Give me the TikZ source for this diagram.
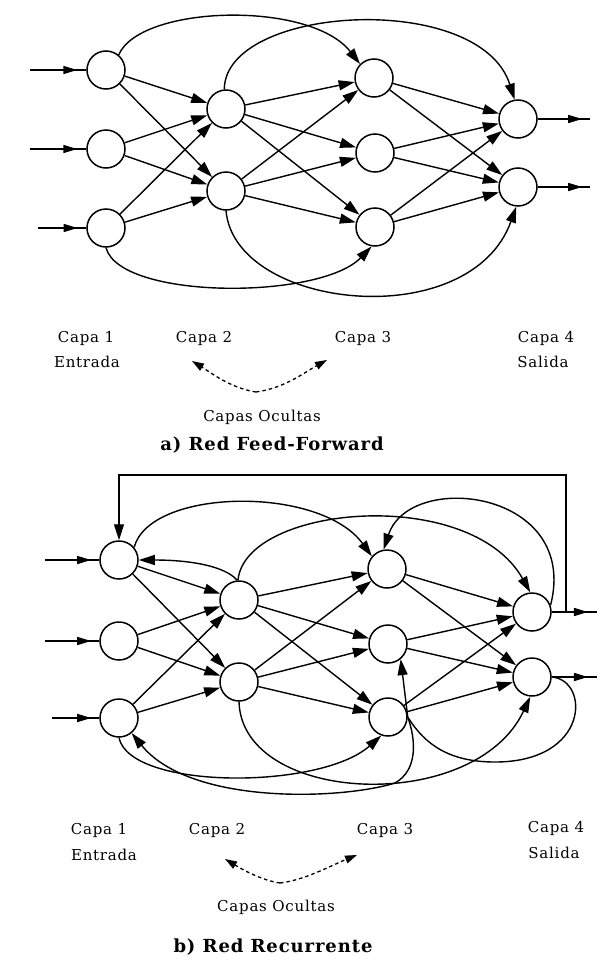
\documentclass[tikz,border=0pt]{standalone}
\usepackage{fontspec}
\setmainfont{DejaVu Serif}[LetterSpace=5]
\usetikzlibrary{arrows.meta,decorations.markings}

\tikzset{
  neuron/.style={circle,draw,line width=1.5pt,minimum size=38pt,inner sep=0pt},
  link/.style={line width=1.4pt,-{Triangle[length=16pt,width=10pt]}},
  io/.style={line width=1.6pt,postaction={decorate},
    decoration={markings,mark=at position #1 with {\arrow{Triangle[length=14pt,width=8pt]}}}},
  lbl/.style={font=\fontsize{15}{17}\selectfont,inner sep=0pt},
  heading/.style={font=\fontsize{18}{20}\selectfont\bfseries,inner sep=0pt},
  hint/.style={line width=1.3pt,dash pattern=on 3.5pt off 3pt,-{Triangle[length=12pt,width=8pt]}}
}

\begin{document}
\begin{tikzpicture}[x=1pt,y=-1pt]
\useasboundingbox[fill=white] (0,0) rectangle (598,964);

% ---------------- a) feed-forward network ----------------
\node[neuron] (a1) at (106,70) {};
\node[neuron] (a2) at (106,149) {};
\node[neuron] (a3) at (106,228) {};
\node[neuron] (b1) at (226,109) {};
\node[neuron] (b2) at (226,191) {};
\node[neuron] (c1) at (374,78) {};
\node[neuron] (c2) at (375,153) {};
\node[neuron] (c3) at (375,227) {};
\node[neuron] (d1) at (518,119) {};
\node[neuron] (d2) at (518,187) {};

\coordinate (ain1) at (30,70);
\coordinate (ain2) at (30,149);
\coordinate (ain3) at (38,228);
\coordinate (aout1) at (590,119);
\coordinate (aout2) at (590,187);
\draw[io=0.84] (ain1) -- (a1);
\draw[io=0.84] (ain2) -- (a2);
\draw[io=0.82] (ain3) -- (a3);
\draw[io=0.85] (d1) -- (aout1);
\draw[io=0.85] (d2) -- (aout2);

\foreach \s in {a1,a2,a3} \foreach \t in {b1,b2} \draw[link] (\s) -- (\t);
\foreach \s in {b1,b2} \foreach \t in {c1,c2,c3} \draw[link] (\s) -- (\t);
\foreach \s in {c1,c2,c3} \foreach \t in {d1,d2} \draw[link] (\s) -- (\t);

% skip connections
\draw[link] (a1.50) .. controls (140,5) and (310,0) .. (c1.135);
\draw[link] (b1.95) .. controls (225,5) and (480,-10) .. (d1.100);
\draw[link] (a3.south) .. controls (120,300) and (320,300) .. (c3.-100);
\draw[link] (b2.south) .. controls (235,310) and (470,335) .. (d2.-95);

% labels
\node[lbl] (la1) at (86,338) {Capa 1};
\node[lbl] (la1b) at (87,362) {Entrada};
\node[lbl] (la2) at (204,338) {Capa 2};
\node[lbl] (la3) at (363,338) {Capa 3};
\node[lbl] (la4) at (546,338) {Capa 4};
\node[lbl] (la4b) at (543,362) {Salida};
\node[lbl] (laoc) at (262,417) {Capas Ocultas};
\node[heading] (lat) at (272,445) {a) Red Feed-Forward};
\coordinate (av) at (256,392);
\coordinate (avl) at (192,361);
\coordinate (avr) at (327,360);
\draw[hint] (av) .. controls (230,388) and (210,372) .. (avl);
\draw[hint] (av) .. controls (285,388) and (305,372) .. (avr);

% ---------------- b) recurrent network ----------------
\node[neuron] (p1) at (119,560) {};
\node[neuron] (p2) at (119,641) {};
\node[neuron] (p3) at (119,718) {};
\node[neuron] (q1) at (239,600) {};
\node[neuron] (q2) at (239,682) {};
\node[neuron] (r1) at (387,569) {};
\node[neuron] (r2) at (388,644) {};
\node[neuron] (r3) at (388,717) {};
\node[neuron] (s1) at (532,612) {};
\node[neuron] (s2) at (532,677) {};

\coordinate (bin1) at (45,560);
\coordinate (bin2) at (45,641);
\coordinate (bin3) at (52,718);
\coordinate (bout1) at (597,612);
\coordinate (bout2) at (597,677);
\draw[io=0.85] (bin1) -- (p1);
\draw[io=0.85] (bin2) -- (p2);
\draw[io=0.83] (bin3) -- (p3);
\draw[io=0.8] (s1) -- (bout1);
\draw[io=0.8] (s2) -- (bout2);

\foreach \s in {p1,p2,p3} \foreach \t in {q1,q2} \draw[link] (\s) -- (\t);
\foreach \s in {q1,q2} \foreach \t in {r1,r2,r3} \draw[link] (\s) -- (\t);
\foreach \s in {r1,r2,r3} \foreach \t in {s1,s2} \draw[link] (\s) -- (\t);

% skip connections
\draw[link] (p1.40) .. controls (150,488) and (320,485) .. (r1.140);
\draw[link] (q1.93) .. controls (245,505) and (470,485) .. (s1.95);
\draw[link] (p3.south) .. controls (130,790) and (320,790) .. (r3.-110);
\draw[link] (q2.south) .. controls (242,805) and (475,815) .. (s2.-95);

% recurrent connections
\coordinate (fb) at (566,475);
\draw[link] (s1.east) -| (fb) -| (p1.north);
\draw[link] (s1.20) .. controls (580,490) and (410,470) .. (r1.100);
\draw[link] (q1.95) .. controls (225,566) and (190,560) .. (p1.east);
\draw[link] (s2.east) .. controls (590,680) and (590,762) .. (495,762)
  .. controls (450,762) and (425,745) .. (r3.east) -- (r2.-50);
\draw[link] (r3.east) .. controls (416,740) and (418,770) .. (395,783)
  .. controls (340,800) and (190,805) .. (p3.-50);

% labels
\node[lbl] (lb1) at (99,830) {Capa 1};
\node[lbl] (lb1b) at (104,855) {Entrada};
\node[lbl] (lb2) at (217,830) {Capa 2};
\node[lbl] (lb3) at (385,830) {Capa 3};
\node[lbl] (lb4) at (556,828) {Capa 4};
\node[lbl] (lb4b) at (554,853) {Salida};
\node[lbl] (lboc) at (276,907) {Capas Ocultas};
\node[heading] (lbt) at (273,947) {b) Red Recurrente};
\coordinate (bv) at (280,883);
\coordinate (bvl) at (225,859);
\coordinate (bvr) at (357,855);
\draw[hint] (bv) .. controls (260,880) and (240,868) .. (bvl);
\draw[hint] (bv) .. controls (305,880) and (330,866) .. (bvr);
\end{tikzpicture}
\end{document}
